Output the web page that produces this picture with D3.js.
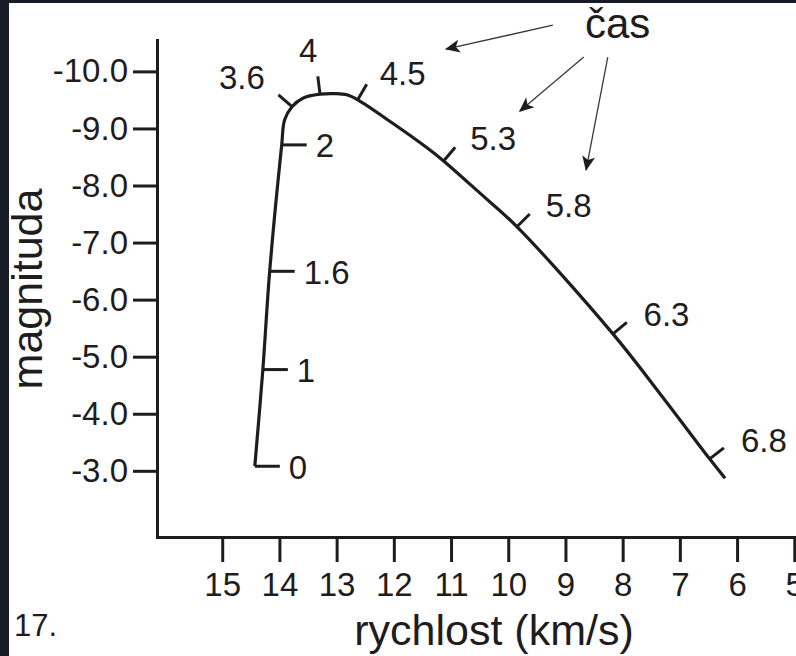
<!DOCTYPE html>
<html><head><meta charset="utf-8">
<script src="https://cdn.jsdelivr.net/npm/d3@7"></script>
<style>html,body{margin:0;padding:0;background:#fff;overflow:hidden}</style>
</head><body>
<svg id="chart" width="796" height="656"></svg>
<script>
// ---- data (velocity km/s, absolute magnitude) ----
const velocity  = [14.43,14.29,14.17,13.96,13.91,13.78,13.59,13.29,13.03,12.82,12.63,12.02,11.42,11.13,10.50,9.85,8.17,7.30,6.48,6.21];
const magnitude = [-3.08,-4.77,-6.50,-8.71,-9.15,-9.38,-9.53,-9.60,-9.61,-9.59,-9.50,-9.09,-8.66,-8.43,-7.87,-7.28,-5.40,-4.29,-3.21,-2.87];
const timeLabels    = ["0","1","1.6","2","3.6","4","4.5","5.3","5.8","6.3","6.8"];
const timeVelocity  = [14.43,14.29,14.17,13.96,13.78,13.29,12.63,11.13,9.85,8.17,6.48];
const timeMagnitude = [-3.08,-4.77,-6.50,-8.71,-9.38,-9.60,-9.50,-8.43,-7.28,-5.40,-3.21];
const xTicks = [15,14,13,12,11,10,9,8,7,6,5];
const yTicks = [-10,-9,-8,-7,-6,-5,-4,-3];
const xTitle = "rychlost (km/s)";
const yTitle = "magnituda";
const timeTitle = "čas";
const figureNumber = "17.";
const timeTitleAt = [8.66,-10.58];
const arrowStart = [[9.22,-10.81],[8.68,-10.25],[8.26,-10.25]];
const arrowEnd   = [[11.09,-10.39],[9.80,-9.30],[8.64,-8.27]];

// ---- setup ----
const W = 796, H = 656;
const FONT = "'Liberation Sans', Arial, Helvetica, sans-serif";
const INK = "#1f1c1d";
const svg = d3.select("#chart");

svg.append("rect").attr("width", W).attr("height", H).attr("fill", "#171b25");
svg.append("rect").attr("x", 9).attr("y", 3).attr("width", W - 9).attr("height", H - 3).attr("fill", "#ffffff");

const x = d3.scaleLinear().domain([16.14, 4.9]).range([157, 800]);
const y = d3.scaleLinear().domain([-10.55, -1.84]).range([40, 537]);

const x0 = x(x.domain()[0]);
const yBase = y(y.domain()[1]);

// ---- axes ----
const gx = svg.append("g")
  .attr("transform", `translate(0,${yBase})`)
  .call(d3.axisBottom(x).tickValues(xTicks).tickSize(25).tickSizeOuter(0).tickPadding(11).tickFormat(d3.format("d")));
const gy = svg.append("g")
  .attr("transform", `translate(${x0},0)`)
  .call(d3.axisLeft(y).tickValues(yTicks).tickSize(24).tickSizeOuter(0).tickPadding(5).tickFormat(d => d.toFixed(1)));

[gx, gy].forEach(g => {
  g.select(".domain").attr("stroke", INK).attr("stroke-width", 3).attr("stroke-linecap", "square");
  g.selectAll(".tick line").attr("stroke", INK).attr("stroke-width", 3);
  g.selectAll(".tick text").attr("fill", INK).attr("font-size", 33).attr("font-family", FONT);
});

// ---- curve ----
const pts = velocity.map((v, i) => [v, magnitude[i]]);
const line = d3.line().x(d => x(d[0])).y(d => y(d[1])).curve(d3.curveCatmullRom.alpha(0.5));
const path = svg.append("path").datum(pts)
  .attr("d", line).attr("fill", "none").attr("stroke", INK)
  .attr("stroke-width", 3.2).attr("stroke-linejoin", "round");

// ---- time ticks along curve ----
const node = path.node();
const total = node.getTotalLength();
const samples = d3.range(0, total, 0.5).map(l => { const p = node.getPointAtLength(l); return {l, x: p.x, y: p.y}; });

const gt = svg.append("g");
timeLabels.forEach((lab, i) => {
  const px = x(timeVelocity[i]), py = y(timeMagnitude[i]);
  const best = d3.least(samples, s => (s.x - px) ** 2 + (s.y - py) ** 2);
  const a = node.getPointAtLength(Math.max(0, best.l - 4));
  const b = node.getPointAtLength(Math.min(total, best.l + 4));
  let tx = b.x - a.x, ty = b.y - a.y; const tl = Math.hypot(tx, ty); tx /= tl; ty /= tl;
  let dx, dy, len;
  if (Math.abs(tx) < 0.3 * Math.abs(ty)) { dx = 1; dy = 0; len = 25; }
  else { dx = ty; dy = -tx; if (dy > 0) { dx = -dx; dy = -dy; } len = 18; }
  const bx = best.x, by = best.y;
  const ex = bx + dx * len, ey = by + dy * len;
  gt.append("line").attr("x1", bx).attr("y1", by).attr("x2", ex).attr("y2", ey)
    .attr("stroke", INK).attr("stroke-width", 3);
  let anchor, lx, ly;
  if (dy === 0) { anchor = "start"; lx = ex + 9; ly = ey + 1; }
  else {
    lx = ex + dx * 14; ly = ey + dy * 12;
    if (dx > 0.3) { anchor = "start"; lx += 6; }
    else if (dx < -0.3) { anchor = "end"; ly -= 10; lx -= 3; }
    else { anchor = "middle"; lx -= 8; ly -= 14; }
  }
  gt.append("text").attr("x", lx).attr("y", ly).attr("dy", "0.35em")
    .attr("text-anchor", anchor).attr("font-size", 33).attr("font-family", FONT)
    .attr("fill", INK).text(lab);
});

// ---- "čas" annotation with arrows ----
svg.append("defs").append("marker")
  .attr("id", "ah").attr("viewBox", "0 0 16 14").attr("refX", 15).attr("refY", 7)
  .attr("markerUnits", "userSpaceOnUse").attr("markerWidth", 16).attr("markerHeight", 13)
  .attr("orient", "auto")
  .append("path").attr("d", "M0,0 L16,7 L0,14 L4,7 Z").attr("fill", "#1f1c1d");

svg.append("g").selectAll("line").data(arrowStart).join("line")
  .attr("x1", d => x(d[0])).attr("y1", d => y(d[1]))
  .attr("x2", (d, i) => x(arrowEnd[i][0])).attr("y2", (d, i) => y(arrowEnd[i][1]))
  .attr("stroke", "#3a3a3a").attr("stroke-width", 1.3).attr("marker-end", "url(#ah)");

svg.append("text").attr("x", x(timeTitleAt[0])).attr("y", y(timeTitleAt[1]))
  .attr("font-size", 42).attr("font-family", FONT).attr("fill", INK).text(timeTitle);

// ---- titles ----
svg.append("text").attr("x", 494).attr("y", 645).attr("text-anchor", "middle")
  .attr("font-size", 43).attr("font-family", FONT).attr("fill", INK).text(xTitle);
svg.append("text").attr("transform", "translate(42,289) rotate(-90)").attr("text-anchor", "middle")
  .attr("font-size", 43).attr("font-family", FONT).attr("fill", INK).text(yTitle);
svg.append("text").attr("x", 14).attr("y", 636)
  .attr("font-size", 31).attr("font-family", FONT).attr("fill", INK).text(figureNumber);
</script>
</body></html>
